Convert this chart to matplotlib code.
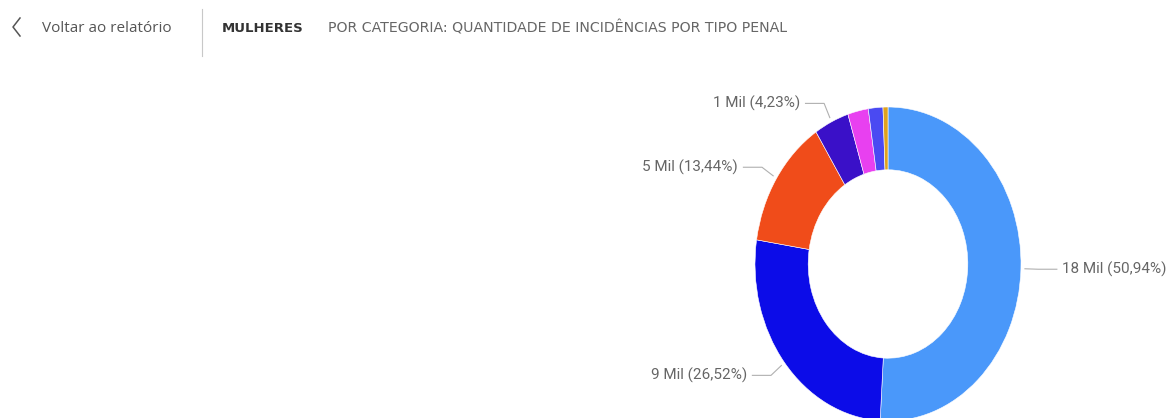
import numpy as np
import matplotlib.pyplot as plt
from matplotlib.lines import Line2D

# slice shares in percent, clockwise from the top
shares = [50.94, 26.52, 13.44, 4.23, 2.50, 1.77, 0.60]
counts = ["18 Mil", "9 Mil", "5 Mil", "1 Mil", None, None, None]
colors = ["#4A98FA", "#0C0CE8", "#F04C1A", "#3A10C8", "#E840F0", "#4A4AF2", "#E0A21E"]

title_main = "MULHERES"
title_sub = "POR CATEGORIA: QUANTIDADE DE INCIDÊNCIAS POR TIPO PENAL"
back_text = "Voltar ao relatório"

W, H = 1169, 418
fig = plt.figure(figsize=(W / 100, H / 100), dpi=100)
fig.patch.set_facecolor("white")

def fx(x):
    return x / W

def fy(y):
    return 1 - y / H

# header
fig.add_artist(Line2D([fx(20), fx(13), fx(20)], [fy(18), fy(27), fy(36)],
                      color="#555555", lw=1.1))
fig.text(fx(42), fy(28), back_text, fontsize=11, family="Open Sans",
         color="#555555", va="center", ha="left")
fig.add_artist(Line2D([fx(202), fx(202)], [fy(9), fy(56)], color="#c8c8c8", lw=0.8))
fig.text(fx(222), fy(28), title_main, fontsize=9.5, family="DejaVu Sans", weight="bold",
         color="#333333", va="center", ha="left")
fig.text(fx(328), fy(28), title_sub, fontsize=10.2, family="DejaVu Sans",
         color="#666666", va="center", ha="left")

# donut (slightly stretched vertically, as in the source screenshot)
cx, cy, rh, rv = 888, 264, 133, 157
ax = fig.add_axes([fx(cx - rh), fy(cy + rv), 2 * rh / W, 2 * rv / H])
ax.pie(shares, colors=colors, startangle=90, counterclock=False, radius=1,
       wedgeprops=dict(width=0.4, edgecolor="white", linewidth=0.4))
ax.set_xlim(-1, 1)
ax.set_ylim(-1, 1)
ax.set_aspect("auto")
ax.axis("off")

mids = 90 - 360 * (np.cumsum(shares) - np.array(shares) / 2) / 100
for ang, val, cnt in zip(mids, shares, counts):
    if cnt is None:
        continue
    a = np.deg2rad(ang)
    c, s = np.cos(a), np.sin(a)
    side = 1 if c >= 0 else -1
    x0, y0 = 1.03 * c, 1.03 * s
    x1, y1 = 1.13 * c, 1.13 * s
    x2 = x1 + side * 0.14
    ax.plot([x0, x1, x2], [y0, y1, y1], color="#b0b0b0", lw=0.8, clip_on=False)
    label = f"{cnt} ({val:.2f}%)".replace(".", ",")
    ax.text(x2 + side * 0.04, y1, label, ha="left" if side > 0 else "right",
            va="center", fontsize=11, family="Roboto", color="#666666")

fig.savefig("out.png", dpi=100)
